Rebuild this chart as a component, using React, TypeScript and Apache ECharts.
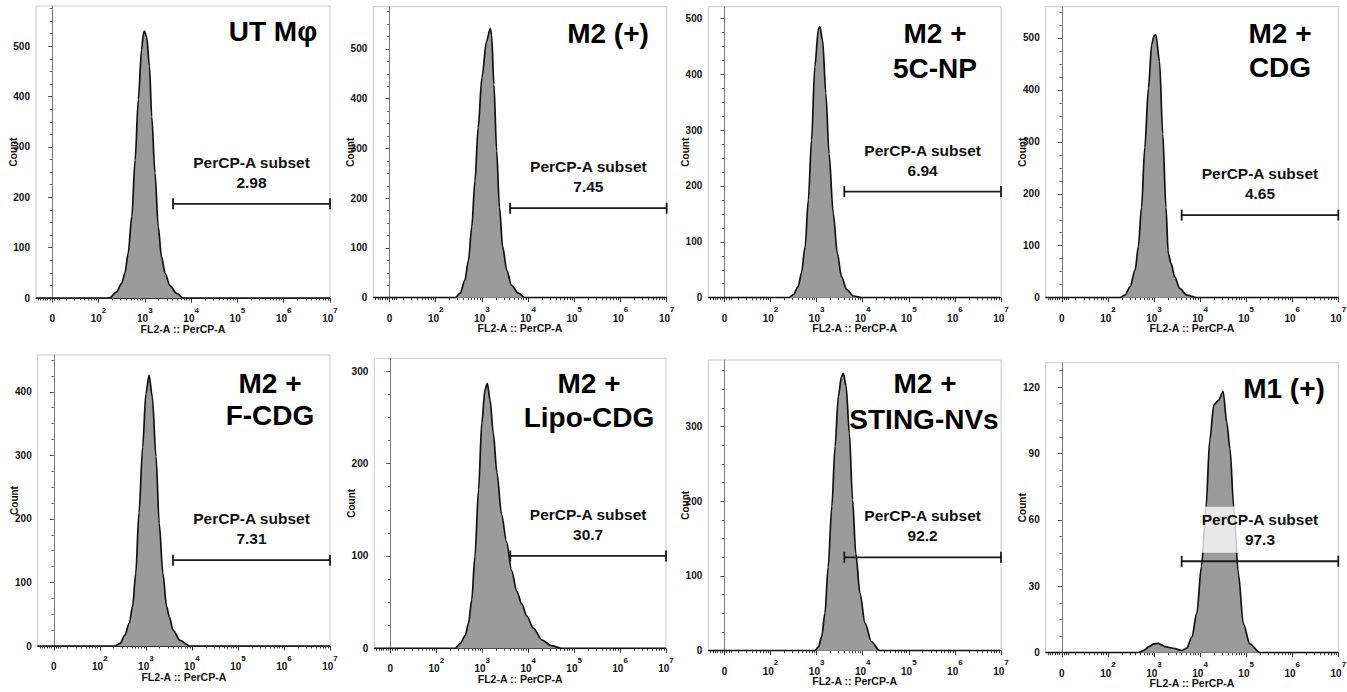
import React, { useEffect, useRef } from 'react';
import * as echarts from 'echarts';

// ---------------- DATA ----------------
// x values are on the display (biexponential) scale: 0 -> "0", 1 -> 10^2, 2 -> 10^3 ... 6 -> 10^7
const xTickValues = [0, 1, 2, 3, 4, 5, 6];
const xMin = -0.35;
const xMax = 6;

const panelTitles = [
  ['UT Mφ'],
  ['M2 (+)'],
  ['M2 +', '5C-NP'],
  ['M2 +', 'CDG'],
  ['M2 +', 'F-CDG'],
  ['M2 +', 'Lipo-CDG'],
  ['M2 +', 'STING-NVs'],
  ['M1 (+)'],
];
const subsetName = 'PerCP-A subset';
const subsetValues = ['2.98', '7.45', '6.94', '4.65', '7.31', '30.7', '92.2', '97.3'];
const gateLow = [2.61, 2.61, 2.6, 2.6, 2.59, 2.61, 2.6, 2.6];
const gateHigh = 6;
const gateCount = [187, 180, 190, 159, 135, 100, 125, 41.3];

const yMax = [580, 585, 521, 560, 458, 314, 389, 131];
const yTicks = [
  [0, 100, 200, 300, 400, 500],
  [0, 100, 200, 300, 400, 500],
  [0, 100, 200, 300, 400, 500],
  [0, 100, 200, 300, 400, 500],
  [0, 100, 200, 300, 400],
  [0, 100, 200, 300],
  [0, 100, 200, 300],
  [0, 30, 60, 90, 120],
];

const histUT = [[-0.35,0],[1.18,0],[1.25,1],[1.39,12],[1.5,29],[1.57,49],[1.64,89],[1.72,162],[1.79,274],[1.86,394],[1.93,493],[1.97,524],[1.99,530],[2.04,519],[2.1,460],[2.15,360],[2.22,248],[2.29,142],[2.36,82],[2.44,49],[2.54,25],[2.69,9],[2.83,0],[6,0]];
const histM2 = [[-0.35,0],[1.42,0],[1.53,9],[1.63,35],[1.71,75],[1.78,142],[1.85,235],[1.92,342],[2.0,442],[2.1,515],[2.18,541],[2.21,529],[2.26,429],[2.32,295],[2.38,182],[2.45,102],[2.54,55],[2.64,25],[2.79,9],[2.93,0],[6,0]];
const hist5CNP = [[-0.35,0],[1.39,0],[1.49,5],[1.6,20],[1.67,44],[1.75,91],[1.82,175],[1.89,282],[1.96,413],[2.04,482],[2.07,485],[2.13,461],[2.2,366],[2.27,258],[2.36,151],[2.45,79],[2.54,38],[2.65,15],[2.8,3],[2.98,0],[6,0]];
const histCDG = [[-0.35,0],[1.26,0],[1.37,5],[1.48,21],[1.59,53],[1.66,98],[1.73,174],[1.8,289],[1.88,404],[1.95,487],[2.0,504],[2.04,506],[2.12,455],[2.19,315],[2.26,174],[2.31,85],[2.37,66],[2.45,40],[2.56,18],[2.71,5],[2.93,0],[6,0]];
const histFCDG = [[-0.35,0],[1.33,0],[1.44,4],[1.54,17],[1.64,36],[1.71,62],[1.78,114],[1.85,209],[1.93,313],[2.0,397],[2.07,426],[2.14,392],[2.22,298],[2.29,193],[2.37,114],[2.45,62],[2.51,46],[2.59,25],[2.74,9],[2.95,0],[6,0]];
const histLipo = [[-0.35,0],[1.41,0],[1.52,5],[1.63,14],[1.7,27],[1.77,52],[1.84,99],[1.92,172],[1.99,244],[2.06,280],[2.11,287],[2.17,269],[2.24,233],[2.32,190],[2.42,145],[2.53,115],[2.64,84],[2.75,62],[2.86,48],[2.97,35],[3.11,22],[3.3,9],[3.5,3],[3.72,0],[6,0]];
const histSTING = [[-0.35,0],[1.96,0],[2.04,5],[2.11,19],[2.18,50],[2.25,112],[2.33,193],[2.4,273],[2.47,340],[2.54,367],[2.58,371],[2.64,354],[2.71,291],[2.78,202],[2.85,130],[2.94,77],[3.05,37],[3.19,12],[3.37,0],[6,0]];
const histM1 = [[-0.35,0],[1.66,0],[1.77,1],[1.91,3],[2.0,4],[2.09,4.2],[2.17,3.5],[2.24,2.7],[2.42,2],[2.6,1],[2.71,2],[2.82,7],[2.93,18],[3.03,39],[3.13,66],[3.21,96],[3.3,112],[3.4,114],[3.5,118],[3.58,104],[3.65,92],[3.73,66],[3.83,36],[3.94,13],[4.08,4],[4.3,0],[6,0]];
const histograms = [histUT, histM2, hist5CNP, histCDG, histFCDG, histLipo, histSTING, histM1];

// ---------------- LAYOUT ----------------
const grids = [
  { left: 36, top: 6, width: 294, height: 292 },
  { left: 373.3, top: 6.7, width: 293.4, height: 291 },
  { left: 708.3, top: 6.7, width: 292.7, height: 291 },
  { left: 1045.7, top: 6.7, width: 292.6, height: 291 },
  { left: 37.7, top: 355, width: 292.3, height: 291 },
  { left: 374.3, top: 358.3, width: 291.7, height: 290 },
  { left: 708.3, top: 360, width: 292.7, height: 290.7 },
  { left: 1045.7, top: 362.7, width: 292.6, height: 290 },
];
const titlePos = [
  [[273, 31]],
  [[608, 33]],
  [[935, 33], [935, 68]],
  [[1280, 33], [1280, 67]],
  [[270, 383], [270, 415]],
  [[589, 383], [589, 417]],
  [[925, 383], [924, 419]],
  [[1284, 388]],
];

const FONT = '"Liberation Sans", Arial, Helvetica, sans-serif';

function minorX(): number[] {
  const out: number[] = [-0.3, -0.25, -0.2, -0.15, -0.1, -0.05, 0.05, 0.1, 0.15];
  for (let d = 0; d < 6; d++) {
    for (let m = 2; m <= 9; m++) out.push(d + Math.log10(m));
  }
  return out;
}
function minorY(i: number): number[] {
  const step = (yTicks[i][1] - yTicks[i][0]) / 4;
  const out: number[] = [];
  for (let v = step; v <= yMax[i]; v += step) {
    if (Math.abs(v / (step * 4) - Math.round(v / (step * 4))) > 1e-6) out.push(v);
  }
  return out;
}

function buildOption() {
  const grid: any[] = [];
  const xAxis: any[] = [];
  const yAxis: any[] = [];
  const series: any[] = [];
  const graphic: any[] = [];
  const mx = minorX();

  grids.forEach((g, i) => {
    grid.push({
      ...g,
      show: true,
      borderColor: '#c9c9c9',
      borderWidth: 1,
      backgroundColor: 'transparent',
      containLabel: false,
      outerBoundsMode: 'none',
    });
    xAxis.push({
      type: 'value',
      gridIndex: i,
      min: xMin,
      max: xMax,
      position: 'bottom',
      name: 'FL2-A :: PerCP-A',
      nameLocation: 'middle',
      nameGap: 25,
      nameMoveOverlap: false,
      nameTextStyle: { fontSize: 10.5, fontWeight: 'bold', fontFamily: FONT, color: '#111' },
      axisLine: { show: true, lineStyle: { color: '#333', width: 1 } },
      axisTick: { show: true, customValues: xTickValues, length: 4.5, lineStyle: { color: '#333', width: 1 } },
      axisLabel: {
        show: true,
        customValues: xTickValues,
        margin: 8,
        formatter: (v: number) => (v === 0 ? '{b|0}' : `{b|10}{s|${Math.round(v) + 1}}`),
        rich: {
          b: { fontSize: 10, fontWeight: 'bold', fontFamily: FONT, color: '#111', lineHeight: 25, verticalAlign: 'middle' },
          s: { fontSize: 8, fontWeight: 'bold', fontFamily: FONT, color: '#111', lineHeight: 9, verticalAlign: 'top' },
        },
      },
      splitLine: { show: false },
    });
    xAxis.push({
      type: 'value',
      gridIndex: i,
      min: xMin,
      max: xMax,
      position: 'bottom',
      axisLine: { show: false },
      axisTick: { show: true, customValues: mx, length: 2.5, lineStyle: { color: '#444', width: 1 } },
      axisLabel: { show: false },
      splitLine: { show: false },
    });
    yAxis.push({
      type: 'value',
      gridIndex: i,
      min: 0,
      max: yMax[i],
      position: 'left',
      name: 'Count',
      nameLocation: 'middle',
      nameGap: 18,
      nameMoveOverlap: false,
      nameTextStyle: { fontSize: 10, fontWeight: 'bold', fontFamily: FONT, color: '#111' },
      axisLine: { show: true, lineStyle: { color: '#7a7a7a', width: 1 } },
      axisTick: { show: true, customValues: yTicks[i], length: 4, lineStyle: { color: '#444', width: 1 } },
      axisLabel: {
        show: true,
        customValues: yTicks[i],
        margin: 6,
        fontSize: 10,
        fontWeight: 'bold',
        fontFamily: FONT,
        color: '#111',
      },
      splitLine: { show: false },
    });
    yAxis.push({
      type: 'value',
      gridIndex: i,
      min: 0,
      max: yMax[i],
      position: 'left',
      axisLine: { show: false },
      axisTick: { show: true, customValues: minorY(i), length: 2.5, lineStyle: { color: '#666', width: 1 } },
      axisLabel: { show: false },
      splitLine: { show: false },
    });

    series.push({
      type: 'line',
      xAxisIndex: i * 2,
      yAxisIndex: i * 2,
      data: histograms[i],
      showSymbol: false,
      symbol: 'none',
      smooth: 0.3,
      smoothMonotone: 'x',
      lineStyle: { color: '#111', width: 1.7 },
      areaStyle: { color: '#9b9b9b', opacity: 1 },
      z: 2,
      silent: true,
    });

    const label = subsetName + '\n' + subsetValues[i];
    series.push({
      type: 'custom',
      xAxisIndex: i * 2,
      yAxisIndex: i * 2,
      data: [[gateLow[i], gateHigh, gateCount[i]]],
      z: 10,
      silent: true,
      renderItem: (_p: any, api: any) => {
        const a = api.coord([api.value(0), api.value(2)]);
        const b = api.coord([api.value(1), api.value(2)]);
        const cy = a[1];
        const st = { stroke: '#1a1a1a', lineWidth: 1.8 };
        return {
          type: 'group',
          children: [
            { type: 'line', shape: { x1: a[0], y1: cy, x2: b[0], y2: cy }, style: st },
            { type: 'line', shape: { x1: a[0], y1: cy - 5.5, x2: a[0], y2: cy + 5.5 }, style: st },
            { type: 'line', shape: { x1: b[0], y1: cy - 5.5, x2: b[0], y2: cy + 5.5 }, style: st },
            {
              type: 'text',
              style: {
                text: label,
                x: (a[0] + b[0]) / 2,
                y: cy - 31.5,
                align: 'center',
                verticalAlign: 'middle',
                fontSize: 15.5,
                fontWeight: 'bold',
                fontFamily: FONT,
                fill: '#111',
                lineHeight: 20,
                backgroundColor: 'rgba(255,255,255,0.78)',
                padding: [3, 4],
              },
            },
          ],
        };
      },
    });

    panelTitles[i].forEach((t, k) => {
      const [x, y] = titlePos[i][k];
      graphic.push({
        type: 'text',
        x,
        y,
        z: 100,
        silent: true,
        style: {
          text: t,
          fill: '#000',
          fontSize: 28,
          fontWeight: 'bold',
          fontFamily: FONT,
          align: 'center',
          verticalAlign: 'middle',
        },
      });
    });
  });

  return { animation: false, backgroundColor: '#fff', grid, xAxis, yAxis, series, graphic };
}

export default function App() {
  const ref = useRef<HTMLDivElement>(null);
  useEffect(() => {
    document.body.style.margin = '0';
    if (!ref.current) return;
    const chart = echarts.init(ref.current, undefined, { renderer: 'svg' });
    chart.setOption(buildOption() as any);
    return () => chart.dispose();
  }, []);
  return <div ref={ref} style={{ width: '1347px', height: '692px' }} />;
}
